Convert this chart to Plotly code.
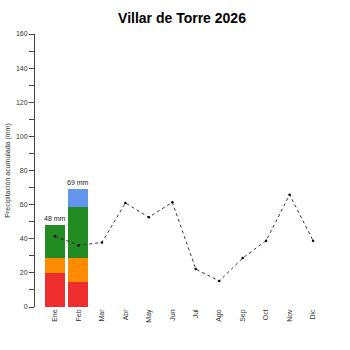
import plotly.graph_objects as go

months = ["Ene", "Feb", "Mar", "Abr", "May", "Jun", "Jul", "Ago", "Sep", "Oct", "Nov", "Dic"]
bar_months = ["Ene", "Feb"]
seg_red = [20, 14.5]
seg_orange = [8.5, 14.5]
seg_green = [19.5, 29.5]
seg_blue = [0, 10.5]
totals = [48, 69]
total_labels = ["48 mm", "69 mm"]
mean_vals = [41.5, 36.2, 37.8, 61.0, 52.6, 61.4, 22.3, 15.2, 28.7, 38.9, 65.8, 38.9]

fig = go.Figure()
colors = ["#ee2e2e", "#ff8c00", "#228b22", "#6495ed"]
for vals, c in zip([seg_red, seg_orange, seg_green, seg_blue], colors):
    fig.add_trace(go.Bar(x=bar_months, y=vals, marker=dict(color=c, line=dict(width=0)),
                         showlegend=False, hoverinfo="skip"))
fig.add_trace(go.Scatter(x=months, y=mean_vals, mode="lines+markers",
                         line=dict(color="black", width=0.8, dash="dot"),
                         marker=dict(color="black", size=2.5), showlegend=False))
for m, t, lab in zip(bar_months, totals, total_labels):
    fig.add_annotation(x=m, y=t, text=lab, showarrow=False, yshift=7,
                       font=dict(size=7, color="#222"))

fig.update_layout(
    width=350, height=350, barmode="stack", bargap=0.147,
    plot_bgcolor="white", paper_bgcolor="white",
    margin=dict(l=35, r=17, t=34, b=43, autoexpand=False),
    font=dict(family="Liberation Sans, Arial, sans-serif"),
    title=dict(text="<b>Villar de Torre 2026</b>", x=0.52, xanchor="center", y=0.948, yanchor="middle",
               font=dict(size=14, color="black")),
    xaxis=dict(categoryorder="array", categoryarray=months, range=[-0.853, 11.85],
               tickangle=-90, showline=False, showgrid=False, ticks="", automargin=False,
               tickfont=dict(size=7, color="#333"), fixedrange=True),
    yaxis=dict(range=[0, 160], tickvals=list(range(0, 161, 20)), showgrid=False, automargin=False,
               showline=True, linecolor="#444", linewidth=1, ticks="outside", ticklen=5,
               tickcolor="#444", tickfont=dict(size=7, color="#333"), zeroline=False,
               minor=dict(tickvals=list(range(10, 160, 20)), ticks="outside", ticklen=5, tickcolor="#444"),
               title=dict(text="Precipitación acumulada (mm)", font=dict(size=7, color="#333"), standoff=4)),
)
fig.write_html("out.html")
